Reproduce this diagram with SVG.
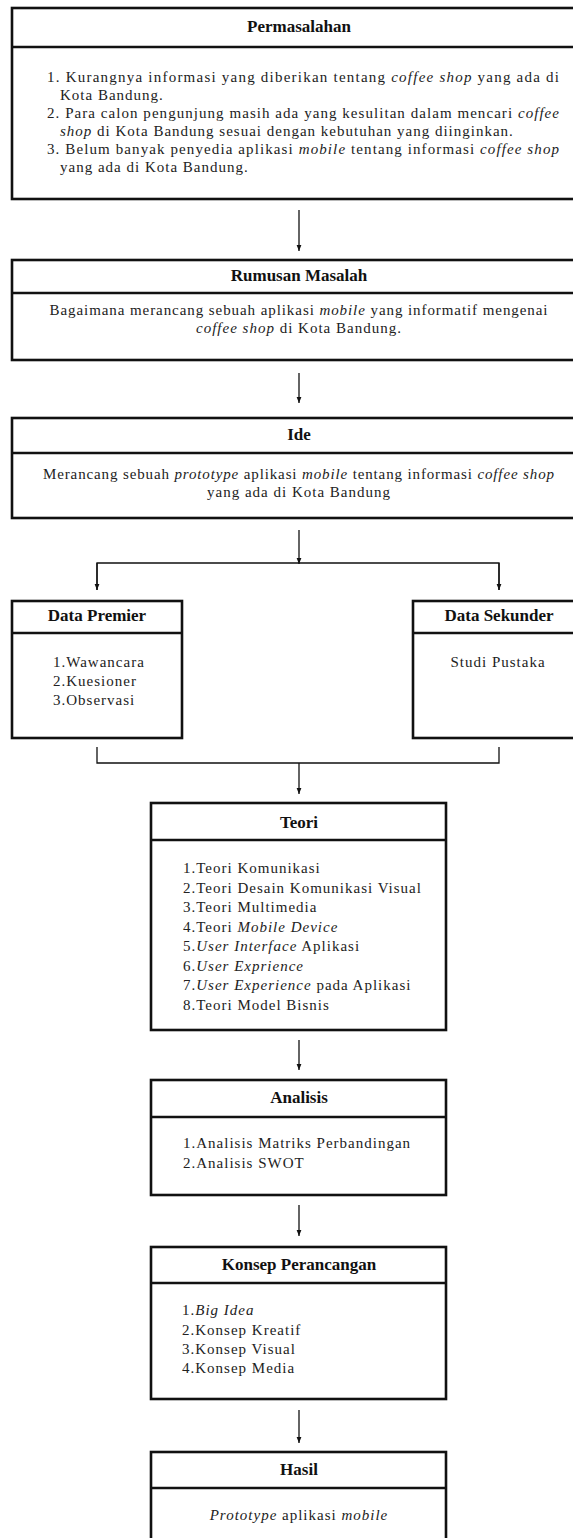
<svg xmlns="http://www.w3.org/2000/svg" width="573" height="1538" viewBox="0 0 573 1538">
<style>
.box{fill:#fff;stroke:#111;stroke-width:2.6}
.div{stroke:#111;stroke-width:2.6}
.t{font-family:"Liberation Serif",serif;font-weight:bold;font-size:17px;fill:#111;text-anchor:middle}
.b{font-family:"Liberation Serif",serif;font-size:15px;fill:#222;letter-spacing:1px}
.c{text-anchor:middle}
.i{font-style:italic}
.con{stroke:#111;stroke-width:1.3;fill:none}
</style>
<defs>
<marker id="ah" viewBox="0 0 10 10" refX="10" refY="5" markerWidth="6" markerHeight="6" orient="auto" markerUnits="userSpaceOnUse">
<path d="M0,1 L10,5 L0,9 Z" fill="#111"/>
</marker>
</defs>
<rect width="573" height="1538" fill="#fff"/>

<g id="permasalahan">
<rect class="box" x="12" y="8" width="590" height="191"/>
<line class="div" x1="12" y1="47" x2="602" y2="47"/>
<text class="t" x="299" y="32">Permasalahan</text>
<text class="b" x="47" y="82" textLength="513" lengthAdjust="spacing">1. Kurangnya informasi yang diberikan tentang <tspan class="i">coffee shop</tspan> yang ada di</text>
<text class="b" x="60" y="100">Kota Bandung.</text>
<text class="b" x="47" y="118" textLength="513" lengthAdjust="spacing">2.  Para calon pengunjung masih ada yang kesulitan dalam mencari <tspan class="i">coffee</tspan></text>
<text class="b" x="60" y="136"><tspan class="i">shop</tspan> di Kota Bandung sesuai dengan kebutuhan yang diinginkan.</text>
<text class="b" x="47" y="154" textLength="513" lengthAdjust="spacing">3.  Belum banyak penyedia aplikasi <tspan class="i">mobile</tspan> tentang informasi <tspan class="i">coffee shop</tspan></text>
<text class="b" x="60" y="172">yang ada di Kota Bandung.</text>
</g>

<g id="rumusan">
<rect class="box" x="12" y="260" width="590" height="100"/>
<line class="div" x1="12" y1="293" x2="602" y2="293"/>
<text class="t" x="299" y="281">Rumusan Masalah</text>
<text class="b c" x="299" y="315" textLength="499" lengthAdjust="spacing">Bagaimana merancang sebuah aplikasi <tspan class="i">mobile</tspan> yang informatif mengenai</text>
<text class="b c" x="299" y="333"><tspan class="i">coffee shop</tspan> di Kota Bandung.</text>
</g>

<g id="ide">
<rect class="box" x="12" y="418" width="590" height="100"/>
<line class="div" x1="12" y1="453" x2="602" y2="453"/>
<text class="t" x="299" y="440">Ide</text>
<text class="b c" x="299" y="479" textLength="512" lengthAdjust="spacing">Merancang sebuah <tspan class="i">prototype</tspan> aplikasi <tspan class="i">mobile</tspan> tentang informasi <tspan class="i">coffee shop</tspan></text>
<text class="b c" x="299" y="497">yang ada di Kota Bandung</text>
</g>

<g id="data-premier">
<rect class="box" x="12" y="601" width="170" height="137"/>
<line class="div" x1="12" y1="633" x2="182" y2="633"/>
<text class="t" x="97" y="621">Data Premier</text>
<text class="b" x="53" y="667">1.Wawancara</text>
<text class="b" x="53" y="686">2.Kuesioner</text>
<text class="b" x="53" y="705">3.Observasi</text>
</g>

<g id="data-sekunder">
<rect class="box" x="413" y="601" width="190" height="137"/>
<line class="div" x1="413" y1="633" x2="603" y2="633"/>
<text class="t" x="499" y="621">Data Sekunder</text>
<text class="b c" x="498" y="667">Studi Pustaka</text>
</g>

<g id="teori">
<rect class="box" x="151" y="803" width="295" height="227"/>
<line class="div" x1="151" y1="840" x2="446" y2="840"/>
<text class="t" x="299" y="828">Teori</text>
<text class="b" x="183" y="873">1.Teori Komunikasi</text>
<text class="b" x="183" y="893">2.Teori Desain Komunikasi Visual</text>
<text class="b" x="183" y="912">3.Teori Multimedia</text>
<text class="b" x="183" y="932">4.Teori <tspan class="i">Mobile Device</tspan></text>
<text class="b" x="183" y="951">5.<tspan class="i">User Interface</tspan> Aplikasi</text>
<text class="b" x="183" y="971">6.<tspan class="i">User Exprience</tspan></text>
<text class="b" x="183" y="990">7.<tspan class="i">User Experience</tspan> pada Aplikasi</text>
<text class="b" x="183" y="1010">8.Teori Model Bisnis</text>
</g>

<g id="analisis">
<rect class="box" x="151" y="1080" width="295" height="115"/>
<line class="div" x1="151" y1="1117" x2="446" y2="1117"/>
<text class="t" x="299" y="1103">Analisis</text>
<text class="b" x="183" y="1148">1.Analisis Matriks Perbandingan</text>
<text class="b" x="183" y="1168">2.Analisis SWOT</text>
</g>

<g id="konsep">
<rect class="box" x="151" y="1247" width="295" height="152"/>
<line class="div" x1="151" y1="1283" x2="446" y2="1283"/>
<text class="t" x="299" y="1270">Konsep Perancangan</text>
<text class="b" x="182" y="1315">1.<tspan class="i">Big Idea</tspan></text>
<text class="b" x="182" y="1335">2.Konsep Kreatif</text>
<text class="b" x="182" y="1354">3.Konsep Visual</text>
<text class="b" x="182" y="1373">4.Konsep Media</text>
</g>

<g id="hasil">
<rect class="box" x="151" y="1452" width="295" height="110"/>
<line class="div" x1="151" y1="1488" x2="446" y2="1488"/>
<text class="t" x="299" y="1475">Hasil</text>
<text class="b c" x="299" y="1520"><tspan class="i">Prototype</tspan> aplikasi <tspan class="i">mobile</tspan></text>
</g>

<g id="connectors">
<line class="con" x1="299" y1="210" x2="299" y2="251" marker-end="url(#ah)"/>
<line class="con" x1="299" y1="373" x2="299" y2="403" marker-end="url(#ah)"/>
<line class="con" x1="299" y1="530" x2="299" y2="564" marker-end="url(#ah)"/>
<polyline class="con" points="97,590 97,563 499,563 499,590"/>
<line class="con" x1="97" y1="563" x2="97" y2="590" marker-end="url(#ah)"/>
<line class="con" x1="499" y1="563" x2="499" y2="590" marker-end="url(#ah)"/>
<polyline class="con" points="97,747 97,763 499,763 499,747"/>
<line class="con" x1="299" y1="763" x2="299" y2="794" marker-end="url(#ah)"/>
<line class="con" x1="299" y1="1040" x2="299" y2="1070" marker-end="url(#ah)"/>
<line class="con" x1="299" y1="1205" x2="299" y2="1236" marker-end="url(#ah)"/>
<line class="con" x1="299" y1="1410" x2="299" y2="1443" marker-end="url(#ah)"/>
</g>
</svg>
